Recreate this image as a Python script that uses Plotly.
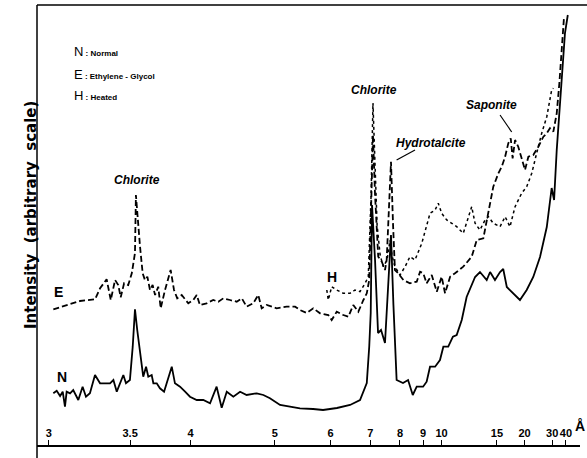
import math
import plotly.graph_objects as go

# ---- data: X-ray diffraction traces (x = 2-theta, Cu K-alpha; y = arbitrary intensity) ----
WAVELENGTH = 1.5406  # Angstrom

n_two_theta = [29.52, 29.34, 29.16, 29.02, 28.90, 28.81, 28.63, 28.46, 28.19, 27.96, 27.78, 27.57,
               27.30, 27.03, 26.50, 26.32, 26.14, 25.97, 25.79, 25.65, 25.44, 25.29, 25.17, 25.05,
               24.90, 24.73, 24.58, 24.46, 24.28, 24.19, 24.01, 23.84, 23.62, 23.39, 23.21, 23.04,
               22.77, 22.50, 22.24, 21.88, 21.53, 21.17, 20.82, 20.55, 20.28, 19.93, 19.57, 19.22,
               18.68, 18.33, 17.98, 17.44, 16.91, 16.38, 15.68, 15.15, 14.41, 13.71, 13.18, 12.82,
               12.69, 12.61, 12.54, 12.38, 12.22, 12.06, 11.85, 11.69, 11.53, 11.40, 11.23, 10.89,
               10.62, 10.37, 10.16, 9.82, 9.63, 9.45, 9.18, 8.92, 8.74, 8.48, 8.23, 8.03,
               7.76, 7.50, 7.23, 7.05, 6.79, 6.43, 6.25, 5.99, 5.72, 5.55, 5.36, 5.01,
               4.66, 4.30, 3.95, 3.59, 3.23, 2.97, 2.84, 2.70, 2.43, 2.26, 2.11]
n_intensity = [51.7, 54.3, 49, 53.3, 38.3, 53.3, 51.7, 55, 45, 58.3, 48.3, 51.7,
               70, 61.7, 61.7, 65, 53.3, 61.7, 70, 61.7, 65, 98.3, 135.7, 115,
               91.7, 68.3, 78.3, 68.3, 70, 61.7, 61.7, 56.7, 53.3, 68.3, 78.3, 61.7,
               58.3, 53.3, 48.3, 45, 45, 41.7, 58.3, 37.3, 53.3, 48.3, 53.3, 50,
               51.7, 50, 46.7, 40, 38.3, 36.7, 36, 35, 37, 40, 45, 62,
               98.3, 132, 240, 185, 112, 115, 102, 150, 210, 140, 65, 62,
               65, 50, 58.3, 58.3, 63.3, 78.3, 78.3, 85, 98.3, 98.3, 108.3, 110,
               125, 148, 160, 168, 173, 165, 173, 165, 173, 176, 158, 152,
               145, 155, 168, 188, 218, 257, 245, 295, 362, 412, 430]

e_two_theta = [29.52, 28.81, 28.10, 27.30, 27.03, 26.68, 26.46, 26.23, 26.06, 25.93, 25.75, 25.53,
               25.34, 25.17, 25.12, 24.90, 24.76, 24.64, 24.51, 24.37, 24.23, 24.10, 23.93, 23.80,
               23.57, 23.27, 23.09, 22.92, 22.68, 22.33, 22.06, 21.88, 21.71, 21.35, 21.00, 20.73,
               20.46, 20.11, 19.75, 19.48, 19.22, 18.87, 18.60, 18.42, 18.15, 17.62, 17.09, 16.64,
               16.38, 16.02, 15.67, 15.31, 14.87, 14.69, 14.42, 14.07, 13.80, 13.54, 13.27, 13.00,
               12.82, 12.69, 12.57, 12.49, 12.38, 12.21, 12.02, 11.85, 11.76, 11.64, 11.53, 11.42,
               11.32, 11.14, 10.87, 10.52, 10.16, 9.98, 9.81, 9.63, 9.36, 9.09, 8.83, 8.65,
               8.38, 8.12, 7.68, 7.23, 6.96, 6.61, 6.34, 6.08, 5.81, 5.63, 5.45, 5.28,
               5.15, 5.05, 4.92, 4.75, 4.57, 4.39, 4.21, 3.95, 3.68, 3.41, 3.23, 3.06,
               2.88, 2.70, 2.56, 2.43, 2.31]
e_intensity = [135.7, 140, 144, 145.7, 156.7, 165.7, 145, 165, 160, 147.7, 161.7, 160,
               171.7, 192, 250, 198.3, 171.7, 165, 168.3, 155, 160, 150, 158.3, 136.7,
               155, 175, 155, 146.7, 150, 141.7, 145, 150, 140, 141.7, 145, 143.3,
               146.7, 145, 143.3, 146.7, 138.3, 141.7, 150, 136.7, 140, 136.7, 138.3, 138.3,
               135, 132, 136.7, 131.7, 130, 125, 133.3, 130, 128.3, 140, 133.3, 145,
               151.7, 165, 250, 310, 250, 188.3, 183.3, 175, 185, 240, 283.3, 220,
               175, 171.7, 165, 161.7, 163.3, 173.3, 171.7, 161.7, 170, 153.3, 168.3, 151.7,
               168.3, 171.7, 178.3, 188.3, 205, 206.7, 231.7, 258.3, 271.7, 278.3, 288.3, 301.7,
               306.7, 286.7, 305, 298.3, 286.7, 275, 288.3, 290, 298.3, 308.3, 311.7, 316.7,
               313.3, 331.7, 361.7, 395, 428.3]

h_two_theta = [14.95, 14.87, 14.69, 14.42, 14.07, 13.71, 13.45, 13.18, 12.91, 12.74, 12.59, 12.49,
               12.38, 12.27, 12.11, 11.94, 11.74, 11.58, 11.48, 11.32, 11.05, 10.78, 10.52, 10.25,
               9.89, 9.63, 9.45, 9.18, 9.01, 8.83, 8.56, 8.29, 8.03, 7.68, 7.41, 7.23,
               7.05, 6.79, 6.52, 6.34, 6.08, 5.72, 5.45, 5.19, 4.92, 4.75, 4.57, 4.30,
               4.03, 3.77, 3.50, 3.23, 2.97, 2.88]
h_intensity = [155, 145, 158.3, 155, 151.7, 151.7, 155, 153.3, 161.7, 168.3, 250, 342,
               280, 220, 190, 178.3, 185, 205, 190, 178.3, 170, 178.3, 188.3, 185,
               201.7, 218.3, 231.7, 235, 241.7, 231.7, 225, 221.7, 218.3, 211.7, 228.3, 238.3,
               221.7, 215, 225, 228.3, 221.7, 218.3, 228.3, 218.3, 238.3, 245, 251.7, 258.3,
               271.7, 291.7, 311.7, 328.3, 355, 356.7]

tick_d_spacings = [3, 3.5, 4, 5, 6, 7, 8, 9, 10, 15, 20, 30, 40]
tick_labels = ["3", "3.5", "4", "5", "6", "7", "8", "9", "10", "15", "20", "30", "40"]

def two_theta(d):
    return 2 * math.degrees(math.asin(WAVELENGTH / (2 * d)))

tick_positions = [two_theta(d) for d in tick_d_spacings]

fig = go.Figure()
fig.add_trace(go.Scatter(x=n_two_theta, y=n_intensity, mode="lines", name="N",
                         line=dict(color="black", width=1.8)))
fig.add_trace(go.Scatter(x=e_two_theta, y=e_intensity, mode="lines", name="E",
                         line=dict(color="black", width=1.8, dash="6px,3px")))
fig.add_trace(go.Scatter(x=h_two_theta, y=h_intensity, mode="lines", name="H",
                         line=dict(color="black", width=1.5, dash="dot")))

NARROW = "Liberation Sans Narrow, Arial Narrow, Liberation Sans, Arial, sans-serif"
SANS = "Liberation Sans, Arial, sans-serif"
WIDE = "DejaVu Sans, Verdana, sans-serif"

ann = []
def label(text, x, y, size=13, style="normal", weight="normal", family=SANS, **kw):
    ann.append(dict(text=text, x=x, y=y, xref="x", yref="y", showarrow=False,
                    font=dict(size=size, family=family, color="black", style=style, weight=weight), **kw))

label("Chlorite", 25.06, 265, size=12, style="italic", weight="bold", family=NARROW)
label("Chlorite", 12.43, 355, size=12, style="italic", weight="bold", family=NARROW)
label("Hydrotalcite", 9.40, 302, size=12, style="italic", weight="bold", family=NARROW)
label("Saponite", 6.15, 340, size=12, style="italic", weight="bold", family=NARROW)
label("E", 29.27, 153, size=14, weight="bold")
label("N", 29.06, 68, size=14, weight="bold")
label("H", 14.67, 168, size=14, weight="bold")

legend_rows = [("N", "Normal", 0.916), ("E", "Ethylene - Glycol", 0.8636), ("H", "Heated", 0.816)]
for letter, desc, yp in legend_rows:
    ann.append(dict(text=f"<span style='font-size:13px;font-weight:normal'>{letter}</span> : {desc}",
                    x=0.064, y=yp, xref="paper", yref="paper", xanchor="left", showarrow=False,
                    font=dict(size=8, family=SANS, color="black", weight="bold")))

ann.append(dict(text="Intensity  (arbitrary  scale)", x=-0.031, y=0.523, xref="paper", yref="paper",
                textangle=-90, showarrow=False,
                font=dict(size=15, family=WIDE, color="black", weight="bold")))
ann.append(dict(text="Å", x=1.0125, y=0.02, xref="paper", yref="paper", showarrow=False,
                xanchor="right", font=dict(size=14, family=SANS, color="black", weight="bold")))

shapes = [
    dict(type="line", xref="x", yref="y", x0=11.23, y0=285, x1=10.25, y1=295,
         line=dict(color="black", width=1.2)),
    dict(type="line", xref="x", yref="y", x0=5.72, y0=330, x1=5.10, y1=313,
         line=dict(color="black", width=1.2)),
    dict(type="line", xref="paper", yref="paper", x0=0, y0=-0.03, x1=0, y1=1,
         line=dict(color="black", width=1.5)),
    dict(type="line", xref="paper", yref="paper", x0=0, y0=1, x1=1.013, y1=1,
         line=dict(color="black", width=1.5)),
]

fig.update_layout(
    width=587, height=458,
    margin=dict(l=37, r=7, t=5, b=13),
    paper_bgcolor="white", plot_bgcolor="white",
    showlegend=False,
    annotations=ann, shapes=shapes,
    xaxis=dict(range=[30.39, 1.46], tickvals=tick_positions, ticktext=tick_labels,
               ticks="inside", ticklen=5, tickwidth=1.2, tickcolor="black", tickangle=0,
               ticklabelposition="inside", showgrid=False, zeroline=False,
               showline=True, linecolor="black", linewidth=1.5,
               tickfont=dict(size=11, family=NARROW, color="black", weight="bold")),
    yaxis=dict(range=[0, 440], showticklabels=False, ticks="", showgrid=False,
               zeroline=False, showline=False),
)

fig.write_html("out.html")
